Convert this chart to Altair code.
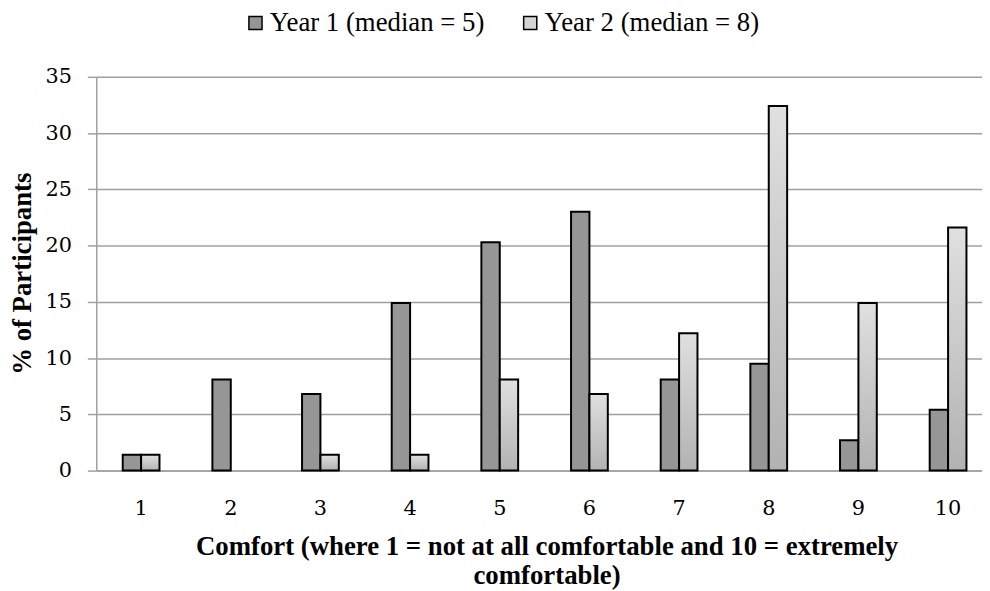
import altair as alt
import pandas as pd

categories = [1, 2, 3, 4, 5, 6, 7, 8, 9, 10]
year1 = [1.4, 8.1, 6.8, 14.9, 20.3, 23.0, 8.1, 9.5, 2.7, 5.4]
year2 = [1.4, 0.0, 1.4, 1.4, 8.1, 6.8, 12.2, 32.4, 14.9, 21.6]
series_names = ["Year 1 (median = 5)", "Year 2 (median = 8)"]
y_ticks = [0, 5, 10, 15, 20, 25, 30, 35]

rows = []
for c, a, b in zip(categories, year1, year2):
    rows.append({"cat": c, "series": series_names[0], "value": a})
    rows.append({"cat": c, "series": series_names[1], "value": b})
df = pd.DataFrame(rows)

SERIF = "Liberation Serif"
TICKFONT = "DejaVu Serif"

x_enc = alt.X(
    "cat:O",
    scale=alt.Scale(paddingInner=0.59, paddingOuter=0.295, range=[0, 904]),
    axis=alt.Axis(
        title=["Comfort (where 1 = not at all comfortable and 10 = extremely", "comfortable)"],
        labelAngle=0,
        ticks=False,
        labelPadding=27,
        labelFont=TICKFONT,
        labelFontSize=21,
        labelColor="#000000",
        titleFont=SERIF,
        titleFontSize=27,
        titleFontWeight="bold",
        titleColor="#000000",
        titleLineHeight=29,
        titleX=454,
        titleY=64,
        titleAlign="center",
        titleBaseline="top",
        domainColor="#a0a0a0",
        domainWidth=1.5,
        grid=False,
    ),
)
y_enc = alt.Y(
    "value:Q",
    scale=alt.Scale(domain=[0, 35], nice=False),
    axis=alt.Axis(
        title="% of Participants",
        values=y_ticks,
        tickSize=9,
        tickColor="#a0a0a0",
        tickWidth=1.5,
        labelPadding=16,
        labelFont=TICKFONT,
        labelFontSize=21,
        labelColor="#000000",
        titleFont=SERIF,
        titleFontSize=27,
        titleFontWeight="bold",
        titleColor="#000000",
        titleX=-74,
        titleY=198,
        titleAlign="center",
        titleBaseline="middle",
        domainColor="#a0a0a0",
        domainWidth=1.5,
        grid=True,
        gridColor="#a0a0a0",
        gridWidth=1.5,
    ),
)
xo_enc = alt.XOffset("series:N", scale=alt.Scale(domain=series_names, paddingInner=0, paddingOuter=0))

gradient = {
    "gradient": "linear",
    "x1": 0, "y1": 0, "x2": 0, "y2": 1,
    "stops": [
        {"offset": 0, "color": "#e0e0e0"},
        {"offset": 1, "color": "#b2b2b2"},
    ],
}

layer1 = (
    alt.Chart(df)
    .transform_filter(alt.datum.series == series_names[0])
    .transform_filter(alt.datum.value > 0)
    .mark_bar(stroke="#000000", strokeWidth=2, fillOpacity=1)
    .encode(
        x=x_enc,
        xOffset=xo_enc,
        y=y_enc,
        color=alt.Color(
            "series:N",
            scale=alt.Scale(domain=series_names, range=["#969696", "#d4d4d4"]),
            legend=alt.Legend(
                title=None,
                orient="none",
                direction="horizontal",
                legendX=147,
                legendY=-68,
                symbolType="square",
                symbolSize=175,
                symbolStrokeColor="#000000",
                symbolStrokeWidth=1.5,
                symbolOpacity=1,
                labelFont=SERIF,
                labelFontSize=27,
                labelColor="#000000",
                labelOffset=1,
                columnPadding=32,
                labelLimit=400,
            ),
        ),
    )
)

layer2 = (
    alt.Chart(df)
    .transform_filter(alt.datum.series == series_names[1])
    .transform_filter(alt.datum.value > 0)
    .mark_bar(stroke="#000000", strokeWidth=2, fill=gradient, fillOpacity=1)
    .encode(x=x_enc, xOffset=xo_enc, y=y_enc)
)

chart = (
    alt.layer(layer1, layer2)
    .properties(
        width=893,
        height=397,
        autosize=alt.AutoSizeParams(type="none"),
        padding={"left": 89, "top": 67, "right": 0, "bottom": 119},
        background="#ffffff",
    )
    .configure_view(stroke=None)
)

chart.save("out.html", embed_options={"renderer": "svg", "actions": False})
